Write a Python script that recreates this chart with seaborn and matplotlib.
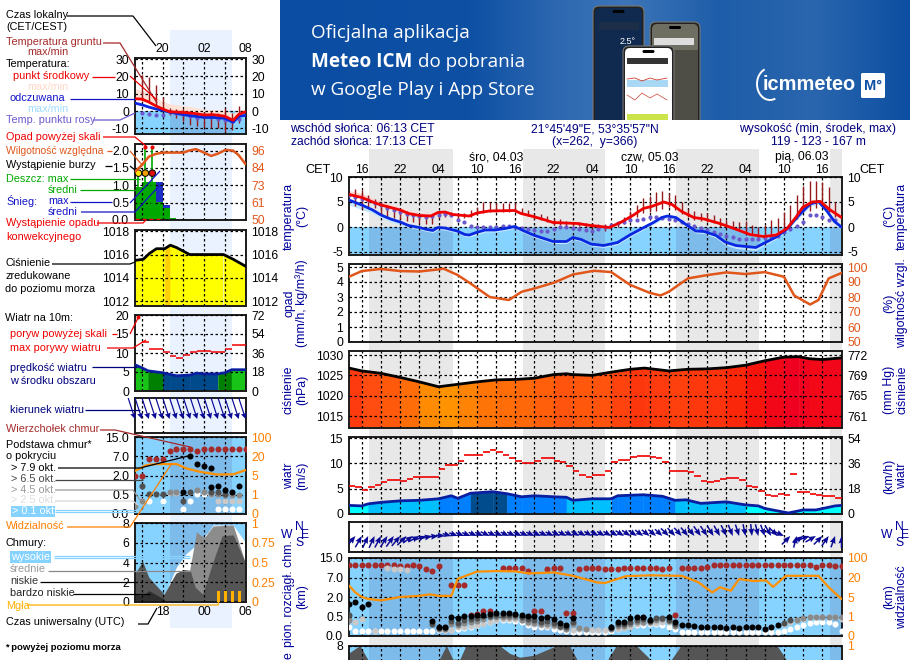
import matplotlib
matplotlib.use('Agg')
import matplotlib.pyplot as plt
import seaborn as sns
import numpy as np
from matplotlib.colors import LinearSegmentedColormap
from matplotlib.patches import FancyBboxPatch, Rectangle, Arc

nan = float('nan')

# ---- main chart data, hours counted from 16:00 CET on the first day
temp_hours = [-2, 0, 1.7, 3, 4.5, 6, 7.3, 9, 10.8, 11.9, 13, 14.2, 16.8, 18, 19.9, 23.9, 24.9, 26.8, 28.7, 29.9, 33.7, 35.8, 38.7, 40.6, 42.5, 44, 45.3, 47.2, 48.5, 50, 51.9, 53.5, 55.7, 58.2, 60.7, 62.8, 64.8, 66.5, 67.9, 68.9, 70.4, 71.7, 73, 75]
temp_mid = [6.5, 5.9, 5.0, 4.4, 3.9, 3.4, 2.7, 2.3, 2.2, 2.9, 3.0, 2.5, 2.2, 2.8, 3.2, 3.3, 2.7, 2.1, 1.4, 0.9, 0.7, 0.3, -0.1, 1.0, 2.4, 3.7, 4.1, 5.0, 4.5, 3.1, 1.9, 1.6, 0.8, -0.3, -1.5, -1.9, -1.6, -0.3, 2.0, 3.9, 5.0, 5.1, 3.6, 1.9]
temp_max = [7.3, 6.7, 5.8, 5.2, 4.5, 4.0, 3.3, 2.9, 2.7, 3.2, 3.3, 2.8, 2.5, 3.1, 3.6, 3.6, 3.0, 2.4, 1.7, 1.2, 1.0, 0.7, 0.3, 1.5, 2.9, 4.1, 4.5, 5.4, 4.9, 3.5, 2.3, 2.0, 1.2, 0.1, -1.1, -1.5, -1.1, 0.3, 2.6, 4.4, 5.4, 5.5, 4.2, 2.5]
feels_hours = [-2, 0, 1.7, 3, 4.5, 6, 7.3, 9, 10.2, 11.1, 11.9, 13, 14.9, 16.1, 16.8, 17.9, 19.3, 20.8, 22.4, 23.9, 25.2, 26.8, 28.7, 29.9, 32, 33, 34.3, 35.8, 37.8, 40, 41.9, 43.8, 45.6, 46.9, 47.8, 49.1, 50.8, 52.2, 53.5, 55.4, 56.8, 58.5, 61.6, 62.8, 64.8, 66.4, 68.3, 70.1, 71.4, 72.6, 73.9, 75]
feels = [5.4, 4.4, 3.4, 2.4, 1.6, 1.0, 0.3, -0.1, -0.5, -0.7, -0.1, -0.2, -0.8, -1.5, -1.6, -1.1, -0.6, -0.6, -0.3, 0.1, -0.7, -1.6, -2.4, -2.9, -2.9, -2.1, -2.5, -3.4, -3.7, -3.1, -1.6, -0.3, 0.9, 1.9, 2.2, 1.9, 0.4, -0.8, -0.9, -1.7, -3.0, -3.7, -4.1, -3.3, -2.0, -0.5, 2.3, 4.6, 5.1, 3.4, 1.1, 0.0]
feels_min = [4.4, 3.5, 2.7, 1.8, 1.0, 0.4, -0.1, -0.5, -0.9, -1.1, -0.5, -0.6, -1.2, -1.9, -2.0, -1.6, -1.0, -1.0, -0.7, -0.3, -1.1, -2.0, -2.8, -3.3, -3.3, -2.5, -2.9, -3.8, -4.1, -3.5, -2.0, -0.7, 0.5, 1.5, 1.8, 1.5, 0.0, -1.2, -1.3, -2.2, -3.6, -4.3, -4.7, -3.8, -2.4, -0.9, 1.8, 4.1, 4.6, 2.9, 0.6, -0.5]

dew_point = [6.4, 6.1, 5.7, 5.5, 4.9, 4.4, 3.9, 3.5, 3.0, 2.7, 2.4, 2.2, 2.0, 2.2, 2.5, 2.6, 2.4, 1.5, 1.0, 0.3,
             0.1, 0.1, 0.1, 0.1, 0.2, 0.3, 0.1, -0.1, -0.3, -0.5, -0.7, -0.7, -0.3, 0.0, 0.1, -0.1, -0.4, -0.5, -0.7, -0.3,
             0.1, 0.5, 0.8, 1.1, 1.4, 1.5, 1.7, 2.0, 2.0, 1.9, 1.7, 1.4, 1.0, 0.7, 0.3, -0.1, -0.5, -0.9, -1.4, -1.7,
             -2.0, -2.4, -2.4, -2.4, -2.4, -2.2, -2.0, -1.7, -1.0, -0.3, 0.3, 1.0, 2.4, 2.4, 2.0, 1.5, 1.4]

ground_max = [7.6, 7.4, 6.4, 5.6, 5.0, 4.4, 4.0, 3.6, 3.3, 2.8, 2.5, 2.5, 2.5, 3.0, 3.0, 3.0, 2.5, 2.8, 3.4, 4.0, 5.0, 5.0, 4.9, 4.9, 4.8, 4.8,
              3.8, 3.4, 2.7, 2.6, 2.2, 1.6, 1.6, 1.2, 1.0, 1.0, 0.9, 0.8, 0.7, 0.7, 0.8, 1.0, 2.0, 3.2, 4.5, 5.8, 6.3, 7.0, 7.2, 6.8, 6.4,
              5.0, 3.7, 3.2, 2.9, 2.9, 2.5, 1.8, 1.4, 1.2, 1.0, 1.2, 0.4, 0.0, 0.5, 1.5, 1.8, 3.0, 4.4, 6.4, 8.3, 9.2, 9.2, 9.0, 8.0, 5.0, 3.4]
ground_min = [4.2, 3.7, 4.0, 3.8, 2.4, 2.0, 1.8, 1.6, 1.3, 1.0, 0.8, 0.7, 0.7, 1.8, 2.0, 2.5, 1.6, 1.8, 2.0, 2.5, 2.8, 3.0, 3.0, 3.0, 3.0, 3.0,
              2.7, 2.2, 1.6, 1.4, 1.0, 0.5, 0.4, 0.3, 0.3, 0.2, 0.0, -0.2, -0.6, -0.7, -0.2, 0.0, 0.6, 1.0, 2.0, 2.8, 3.1, 3.3, 3.7, 4.0, 3.5,
              2.6, 2.0, 1.5, 1.3, 1.0, 0.8, 0.1, -0.2, -0.3, -0.6, -1.0, -1.5, -2.1, -1.7, -1.5, -1.0, -0.5, 0.6, 1.6, 3.0, 3.3, 3.8, 4.3, 3.0, 2.0, 1.7]

rh_hours = [-2, 0, 3, 6, 9, 12, 12.8, 15, 17, 20, 23, 25, 27, 30, 33, 36.3, 39, 42, 45, 46.7, 48, 51, 54, 57, 60, 63, 66, 67.6, 70.1, 71.4, 73, 75]
rh_values = [93.5, 97.3, 98.7, 97.3, 97, 98.4, 98.9, 94.6, 89, 80, 78, 83.5, 85.7, 89.5, 95, 97.5, 96.6, 88, 82.8, 81, 83.5, 92.4, 94.6, 96.4, 95.3, 96.6, 93.5, 81, 75, 78, 92.4, 96]

pressure_hours = [-2, 0, 3, 6, 9, 12, 15, 18, 21, 24, 27, 30, 32, 33, 36, 39, 42, 44.2, 48, 51, 54, 57, 60, 63, 66, 68.3, 70, 72, 75]
pressure = [1026.8, 1026.1, 1025.5, 1024.5, 1023.4, 1022.2, 1022.8, 1023.4, 1023.9, 1024, 1024.3, 1025.2, 1025.4, 1025.2, 1025, 1025.8, 1026.5, 1026.8, 1026.1, 1026.5, 1026.6, 1026.9, 1027.5, 1028.6, 1029.5, 1029.6, 1029.1, 1028.9, 1029.3]

wind_hours = [-2, 0, 1, 3, 6, 9, 12, 14, 15, 17, 20.5, 22.7, 25, 27, 30, 32, 33, 36, 39, 40, 44, 47, 49, 50.7, 53, 57, 60, 62, 63, 66.7, 69, 71, 74, 75]
wind_speed = [1.7, 1.6, 2.0, 2.3, 2.6, 2.7, 3.0, 3.6, 3.1, 4.1, 4.4, 4.0, 3.4, 3.6, 3.4, 3.3, 2.7, 3.0, 3.0, 3.6, 3.8, 3.5, 2.7, 2.8, 2.1, 2.4, 1.8, 1.6, 1.1, 0.2, 0.8, 0.8, 1.6, 1.7]
gusts = [5.6, 5.3, 4.8, 5.4, 5.8, 6.4, 6.8, 6.8, 6.6, 7.0, 7.3, 7.3, 7.3, 7.4, 8.8, 9.6, 9.6, 10.4, 11.6, 11.6, 11.7, 12.2, 12.6, 12.2, 11.6, 11.0,
         10.4, 10.0, 10.0, 10.4, 11.0, 11.0, 10.4, 10.2, 9.4, 8.5, 7.7, 7.3, 7.7, 7.7, 8.5, 10.2, 10.6, 10.6, 11.3, 11.4, 11.4, 11.2, 11.0, 10.2,
         8.4, 8.4, 8.4, 8.3, 7.5, 6.6, 6.4, 6.6, 7.0, 7.2, 7.2, 6.8, 5.6, 5.4, 4.6, 3.8, 3.6, 4.0, 3.8, 7.8, 4.3, 4.4, 4.0, 3.8, 3.6, 3.6, 3.2]

arrow_angle = [45, 50, 60, 65, 65, 62, 58, 55, 50, 45, 35, 28, 20, 12, 5, -5, -15, -20, -22, -22, -24, -24, -25, -25, -25, -25,
               -25, -25, -25, -25, -25, -26, -26, -28, -28, -28, -30, -30, -30, -30, -30, -30, -32, -32, -34, -34, -36, -38, -40, -42, -44, -46,
               -48, -50, -52, -54, -56, -58, -60, -64, -68, -72, -78, -84, -76, -70, -60, -45, -25, 45, 75, 35, 20, 30, 45, 55, 70, 90]
arrow_len = [14, 13, 13, 13, 13, 13, 13, 13, 13, 13, 12, 12, 11, 11, 10, 9, 9, 9, 9, 9, 9, 9, 10, 9, 9, 9,
             9, 9, 9, 9, 9, 9, 9, 9, 9, 9, 9, 9, 9, 9, 9, 9, 9, 10, 10, 10, 10, 10, 10, 10, 11, 11,
             11, 11, 11, 12, 12, 12, 12, 12, 12, 12, 12, 12, 12, 12, 12, 12, 12, 12, 12, 12, 12, 12, 12, 12, 12, 12]

top_t = [-2, -1, 0, 1, 2, 3, 4, 5, 6, 7, 8, 9, 10, 11, 12, 14, 15, 16, 17, 18, 19, 20, 22, 23, 24, 25, 26, 27, 28, 29, 30, 31, 32, 33,
         34, 35, 36, 37, 38, 39, 40, 41, 42, 43, 44, 45, 46, 47, 48, 49, 50, 51, 52, 53, 54, 55, 56, 57, 58, 59, 60, 61, 62, 63, 64, 65, 66, 67, 68, 69, 70, 71, 72, 73, 74, 75]
top_km = [12.1, 12.1, 12.1, 12.1, 12.1, 12.1, 12.1, 12.0, 11.8, 11.8, 12.0, 11.9, 10.4, 9.5, 11.6, 4.95, 5.2, 4.95, 0.6, 0.7, 0.9, 0.93, 10.9, 10.9, 10.9, 10.9, 9.5, 0.9, 0.9, 10.3, 10.9, 10.9, 0.75, 0.75,
          10.3, 10.9, 10.9, 10.9, 10.3, 10.3, 10.6, 10.9, 10.9, 10.9, 10.9, 10.9, 10.9, 10.3, 10.9, 0.6, 10.9, 10.9, 10.9, 10.9, 11.2, 12, 12, 12, 12, 12, 12, 12, 12, 12, 12, 12, 12, 12, 12, 12, 12, 11.2, 12, 12, 11.6, 11.6]
black_t = [-2, -1, 0, 1] + list(range(11, 34)) + list(range(39, 46)) + list(range(48, 66))
black_km = [1.5, 1.65, 1.25, 1.5, .385, .24, .24, .5, .45, .52, .54, .6, .65, .7, .75, .75, .75, .72, .6, .54, .52, .45, .48, .43, .33, .28, .45,
            .24, .37, .37, .45, .5, .5, .41, .5, .35, .28, .27, .26, .22, .22, .22, .22, .2, .22, .2, .22, .22, .22, .17, .22, .28]
dark_t = [-2] + list(range(11, 34)) + list(range(39, 50)) + [66, 67]
dark_km = [.62, .3, .2, .2, .38, .34, .4, .43, .47, .52, .56, .6, .6, .6, .58, .48, .43, .42, .36, .38, .34, .26, .24, .36,
           .2, .3, .3, .37, .42, .44, .38, .45, .45, .42, .3, .34, .42]
gray_t = [-2, 11] + list(range(12, 34)) + [34, 35] + list(range(39, 50)) + list(range(68, 76))
gray_km = [.42, .37, .17, .17, .3, .28, .33, .36, .39, .44, .48, .5, .5, .5, .48, .4, .36, .34, .3, .31, .28, .22, .18, .3, .2, .19,
           .18, .25, .25, .3, .35, .37, .35, .42, .44, .38, .26, .42, .47, .5, .5, .5, .5, .5, .5]
light_t = [-2, -1, 0, 2, 4, 5, 6, 7, 11] + list(range(12, 40)) + list(range(40, 50)) + list(range(66, 76))
light_km = [.4, .35, .43, .14, 11.0, 10.5, 10.3, 10.1, .37,
            .17, .15, .16, .22, .22, .26, .29, .32, .37, .41, .44, .44, .44, .42, .34, .3, .27, .25, .25, .22, .18, .16, .17, .17, .16, .16, .16, .17,
            .17, .2, .24, .3, .33, .34, .33, .37, .36, .25, .3, .35, .4, .44, .48, .48, .48, .48, .48, .44]
white_km = [.22, .14, .14, .14, .14, .14, .14, .14, .14, .14, .14, .14, .14, .14, .155, .155, .155, .17, .2, .24, .28, .33, .37, .4, .41, .41,
            .39, .35, .28, .24, .22, .22, .19, .155, .14, .11, .11, .11, .11, .11, .11, .14, .17, .22, .26, .28, .29, .31, .31, .28, .22, .17,
            .11, .11, .11, .11, .11, .11, .11, .11, .11, .11, .11, .11, .11, .11, .11, .11, .14, .17, .22, .28, .33, .36, .37, .35, .31, .14]

vis_hours = [-2, -1, 0, 1, 3, 6, 9, 10.7, 12, 14, 15, 18, 21, 24, 26.2, 30, 33, 36.8, 38, 41.3, 45, 50, 52.6, 54.8, 56, 57.7, 59, 61.3, 63.2, 64.3, 66.3, 71.4, 73, 75]
visibility = [13.7, 8.5, 5, 4.6, 4.3, 5, 5.9, 7, 5.9, 5.9, 19, 44, 46.4, 45, 36.8, 40.8, 27, 16.2, 15.7, 25.6, 28.8, 27, 16.4, 8.5, 12.5, 9.8, 18.8, 17.3, 17.8, 12.8, 27, 27, 12.5, 4.6]

low_cloud_hours = [-2, -0.25, 1, 1.01, 12.1, 12.2, 13.3, 14.3, 15.4, 16.3, 21.6, 23.2, 24.8, 27, 30.2, 32.6, 33.7, 33.71, 38.5, 38.6, 39.9, 43, 45, 45.01, 48.3, 48.4, 50, 65, 66.4, 66.41, 75]
low_cloud = [7.2, 8, 6.6, nan, nan, 6.6, 8, 6.6, 6.6, 7.9, 8, 7.2, 6.8, 7, 7.9, 7.9, 6.6, nan, nan, 6.7, 8, 8, 6.7, nan, nan, 6.5, 8, 8, 6.6, nan, nan]

night_start = [1.15, 25.2, 49.1, 73.2]
night_end = [14.25, 38.0, 62.1, 75.0]

# ---- small legend chart, hours on a 16..32 clock
l_t_hours = [16, 17, 18, 19, 20, 21, 23, 24.6, 26, 27.3, 29, 30.2, 31, 32]
l_temp = [7.1, 6.9, 5.2, 3.0, 1.2, -0.4, -0.8, -1.4, -2.3, -2.1, -3.0, -5.4, -2.0, -0.4]
l_feels = [4.6, 3.6, 2.3, 1.2, 0.4, -0.6, -2.1, -3.0, -3.7, -3.7, -4.2, -6.5, -3.0, -2.5]
l_temp_max = [13, 12, 10, 8, 5.6, 4.2, 3, 2.2, 1, 0.8, 0.5, -1.2, 0.6, 1]
l_dew_hours = [17, 18, 19, 20, 21, 22, 23, 24, 25, 26, 27, 28, 29, 30, 31]
l_dew = [-1.2, -1.5, -2.1, -2.1, -0.8, -1.2, -1.7, -2.7, -4, -3.1, -3.5, -4.6, -5.4, -6, -4.6]
l_g_hours = [17, 18, 19, 20, 21, 22, 23, 24, 25, 26, 27, 28, 29, 30, 31]
l_g_max = [21, 19.6, 15, 8, 2, 1, 1, 0, -0.5, -0.5, 0, -1, 2, -1, 3]
l_g_min = [6, 4.6, 3, 1.5, -2.1, -4, -6, -8, -8.5, -9, -10, -10, -12, -11, -7]

l_rh_hours = [16, 17, 18, 19, 20, 23, 23.8, 24.8, 25.7, 27, 28, 29.1, 30.2, 31, 32]
l_rh = [82, 86.5, 92, 93.8, 94.7, 94.7, 96, 97, 95.3, 92.5, 94, 96.5, 96, 93, 87]
l_rain_hours = [16, 17, 18, 19, 20, 21]
l_rain = [0.95, 1.1, 1.1, 0.53, 0.35, 0.05]
l_snow = [0.95, 1.1, 1.1, 1.1, 0.42, 0.05]
l_rain_max_hours = [16.5, 17.5, 18.5]
l_rain_max = [1.35, 2.1, 2.1]
l_storm_colors = ['#FFE000', '#F0A000', '#E01010']

l_p_hours = [16, 17.2, 18.1, 19.1, 20.3, 21.1, 22, 23.9, 28.8, 30.2, 32]
l_pressure = [1015.5, 1015.6, 1016.1, 1016.5, 1016.5, 1016.8, 1016.6, 1016, 1016, 1015.6, 1015]

l_w_hours = [16, 17.1, 17.9, 20, 21, 22, 24, 24.9, 26, 28, 29, 30, 32]
l_wind = [6.9, 6.0, 5.3, 4.8, 4.4, 4.0, 4.2, 4.7, 4.5, 4.5, 4.8, 5.6, 5.6]
l_gust_hours = [17, 18, 19, 20, 21, 22, 23, 24, 25, 26, 27, 28, 29, 30, 31]
l_gust = [13, 11, 11, 10.2, 9.2, 8.6, 9.5, 10.2, 10.5, 10.5, 10.2, 10.2, 11, 12, 12.2]
l_dir_hours = [16, 17, 18, 19, 20, 21, 22, 23, 24, 25, 26, 27, 28, 29, 30, 31, 32]

l_top_h = [16, 17, 18, 19, 20, 21, 22, 23, 24, 25, 26, 27, 28, 29, 30, 31, 32]
l_top = [2, 2, 6.4, 6.4, 6.2, 9, 10, 10, 10, 9, 10, 10, 10, 10, 10, 10, 10]
l_black_h = [23, 24, 25, 26, 27, 27.01, 28, 29, 30, 31]
l_black = [0.7, 7, 4.95, 4.4, 3.9, 1.1, 1.2, 0.9, 0.7, 1.2]
l_dark_h = [17, 18, 19, 20, 23, 24, 27, 28, 29]
l_dark = [1.2, .55, .55, .55, .33, .7, .7, .7, .55]
l_gray_h = [16, 17, 21, 22, 25, 26, 27, 28, 29, 30, 31]
l_gray = [.2, .33, .7, .7, .9, .7, .55, .55, .5, .5, .5]
l_light_h = [21, 22, 28, 29, 30, 31]
l_light = [.62, .62, .33, .33, .33, .33]
l_white_h = [17, 18, 20, 23, 24, 25, 26, 27, 28, 29, 30, 31]
l_white = [.33, .33, .35, .12, .33, .55, .55, .55, .12, .12, .12, .12]
l_vis_hours = [16, 17.6, 19, 22, 23.5, 25.4, 27.8, 30.2, 32]
l_vis = [8.6, 13, 13.9, 13.9, 10.4, 7.9, 5.8, 5.9, 9.2]

l_c_high_h = [20.3, 22, 23.4, 24.9, 26.6, 27.3, 30.2, 32]
l_c_high = [0.8, 3.55, 4.9, 5.8, 7.1, 7.8, 7.8, 6.0]
l_c_mid_h = [22.7, 23.9, 24.9, 26, 27.3, 30.2, 32]
l_c_mid = [0.8, 3.2, 7.1, 6.5, 7.7, 7.8, 3.9]
l_c_low_h = [16, 17.1, 18, 20.2, 21.9, 23, 24, 24.7, 25.8, 27.2, 28.6, 30.2, 32]
l_c_low = [2.9, 4.1, 2.5, 0.8, 2.9, 3.3, 3.2, 1.5, 0.8, 3.9, 6.7, 6.8, 3.9]
l_c_vlow_h = [16, 17.1, 18, 20.2, 20.5]
l_c_vlow = [0.8, 0.65, 1.15, 0.3, 0.0]
l_fog_hours = [28.1, 29.1, 30.1, 31.1]
l_fog = [0.145, 0.145, 0.145, 0.145]

W, H = 910, 660
SKY = '#87D3FF'
SKY_DARK = '#7DBBEB'
NAVY = '#00007F'
ORANGE = '#FF7F00'
RH_COL = '#E0561B'
KM_NODES = [0, 0.5, 2, 7, 15]
VIS_NODES = [0, 1, 5, 20, 100]
POS_NODES = [0, 1, 2, 3, 4]

sns.set_theme(style='white')
plt.rcParams['font.family'] = ['Liberation Sans', 'DejaVu Sans']
plt.rcParams['font.size'] = 8.7
plt.rcParams['axes.unicode_minus'] = False


def px_ax(x0, y0, x1, y1, zorder=5):
    ax = fig.add_axes([x0 / W, 1 - y1 / H, (x1 - x0) / W, (y1 - y0) / H], zorder=zorder)
    ax.patch.set_visible(False)
    return ax


def node_scale(ax, nodes):
    ax.set_yscale('function', functions=(lambda v: np.interp(v, nodes, POS_NODES),
                                         lambda p: np.interp(p, POS_NODES, nodes)))
    ax.set_ylim(nodes[0], nodes[-1])
    ax.minorticks_off()


def setup(ax, xlim, xgrid, yticks, ylabels, rlabels, rcolor='black', pad=4.3, lw=1.4):
    ax.set_xlim(*xlim)
    ax.set_xticks(xgrid)
    ax.set_xticklabels([''] * len(xgrid))
    ax.set_yticks(yticks)
    ax.set_yticklabels(ylabels)
    ax.tick_params(axis='both', length=0, pad=pad, labelsize=8.7, labelcolor='black')
    ax.set_xlabel('')
    ax.set_ylabel('')
    ax.grid(True, color='black', linestyle=(0, (2, 2)), linewidth=0.9)
    ax.set_axisbelow(False)
    for sp in ax.spines.values():
        sp.set_color('#1c1c1c')
        sp.set_linewidth(lw)
        sp.set_visible(True)
    if rlabels:
        sec = ax.secondary_yaxis('right')
        sec.set_yticks(yticks)
        sec.set_yticklabels(rlabels)
        sec.tick_params(length=0, pad=pad, labelsize=8.7, labelcolor=rcolor)
        sec.spines['right'].set_visible(False)


def vis_axis(ax, xlim):
    # second scale of the cloud base panels, its labels sit on the right
    ax2 = ax.twinx()
    node_scale(ax2, VIS_NODES)
    ax2.set_xlim(*xlim)
    ax2.patch.set_visible(False)
    ax2.grid(False)
    for sp in ax2.spines.values():
        sp.set_visible(False)
    ax2.set_yticks(VIS_NODES)
    ax2.set_yticklabels(['0', '1', '5', '20', '100'])
    ax2.tick_params(axis='y', length=0, pad=4.3, labelsize=8.7, labelcolor=ORANGE)
    ax2.minorticks_off()
    return ax2


def line(ax, x, y, color, lw=2, z=5):
    sns.lineplot(x=x, y=y, ax=ax, color=color, linewidth=lw, zorder=z, errorbar=None, legend=False, sort=False)
    ax.set_xlabel('')
    ax.set_ylabel('')


def dots(ax, x, y, color, s=19, z=6):
    sns.scatterplot(x=x, y=y, ax=ax, color=color, s=s, linewidth=0, zorder=z, legend=False, clip_on=True)
    ax.set_xlabel('')
    ax.set_ylabel('')


def stepwise_fill(ax, x, y, colors, base):
    for i in range(len(x) - 1):
        ax.fill_between(x[i:i + 2], base, y[i:i + 2], color=colors[i], linewidth=0.3, zorder=1)


fig = plt.figure(figsize=(W / 100, H / 100), dpi=100, facecolor='white')

# background and overlay in pixel coordinates
bg = fig.add_axes([0, 0, 1, 1], zorder=-1)
bg.set_xlim(0, W)
bg.set_ylim(H, 0)
bg.axis('off')
bg.add_patch(Rectangle((170, 30), 62, 598, color='#EAF2FF', lw=0))
main_left, main_right = 349, 841.5
t2x = lambda t: 361.6 + 6.4 * t
for s, e in zip(night_start, night_end):
    bg.add_patch(Rectangle((t2x(s), 149), t2x(e) - t2x(s), 511, color='#E8E8E8', lw=0))

ov = fig.add_axes([0, 0, 1, 1], zorder=20)
ov.set_xlim(0, W)
ov.set_ylim(H, 0)
ov.axis('off')


def txt(x, y, s, color='black', ha='left', size=8.7, rot=0, **kw):
    ov.text(x, y, s, color=color, ha=ha, va='center', fontsize=size, rotation=rot, **kw)


def ltxt(x, y, s, color='black'):
    txt(x, y, s, color, size=7.8)


def lead(points, color, lw=0.9):
    xs, ys = zip(*points)
    ov.plot(xs, ys, color=color, lw=lw, solid_capstyle='butt')


# ---- banner
ban = px_ax(280, 0, 910, 120, zorder=1)
ban.set_xlim(280, 910)
ban.set_ylim(120, 0)
ban.axis('off')
ban_cmap = LinearSegmentedColormap.from_list('ban', [(0, '#0B4DA2'), (0.3, '#0E50A4'), (0.45, '#2F69B1'), (0.55, '#3C75B8'),
                                                     (0.7, '#1E5DA9'), (0.85, '#2A66AE'), (1, '#0D4FA2')])
ban.imshow(np.linspace(0, 1, 300)[None, :], cmap=ban_cmap, extent=(280, 910, 120, 0), aspect='auto', vmin=0, vmax=1)
ban.set_xlim(280, 910)
ban.set_ylim(120, 0)


def phone(x0, y0, x1, screen):
    ban.add_patch(FancyBboxPatch((x0, y0), x1 - x0, 140 - y0, boxstyle='round,pad=0,rounding_size=6', fc='#222222', ec='#777777', lw=0.8))
    ban.add_patch(FancyBboxPatch((x0 + 2, y0 + 2), x1 - x0 - 4, 140 - y0, boxstyle='round,pad=0,rounding_size=5', fc=screen, ec='none'))
    ban.add_patch(FancyBboxPatch(((x0 + x1) / 2 - 6, y0 + 4), 12, 3, boxstyle='round,pad=0,rounding_size=1.5', fc='black', ec='none'))


phone(593, 6, 644, '#0F2A4E')
ban.text(628, 41, '2.5°', color='white', fontsize=6.5, ha='center', va='center')
ban.add_patch(Rectangle((599, 22), 40, 8, color='#1D2F48', lw=0))
phone(650, 22, 700, '#6F6E62')
ban.add_patch(Rectangle((654, 38), 40, 7, color='#DDDDDD', lw=0))
ban.add_patch(Rectangle((674, 50), 24, 70, color='#4E4E46', lw=0))
phone(623, 46, 674, '#FFFFFF')
ban.add_patch(Rectangle((627, 58), 41, 6, color='#333333', lw=0))
ban.add_patch(Rectangle((627, 80), 41, 7, color='#A9D8F5', lw=0))
ban.add_patch(Rectangle((627, 114), 41, 6, color='#CDE34A', lw=0))
ban.plot([627, 635, 642, 650, 657, 667], [79, 78, 81, 78, 80, 78], color='#D04030', lw=0.6)
ban.plot([627, 635, 642, 650, 657, 667], [95, 100, 93, 98, 94, 100], color='#D04030', lw=0.5)
ban.text(311, 33, 'Oficjalna aplikacja', color='white', fontsize=13.6, va='center', family='Open Sans')
ban.text(311, 62, 'Meteo ICM', color='white', fontsize=13.6, va='center', family='Open Sans', weight='bold')
ban.text(418, 62, 'do pobrania', color='white', fontsize=13.6, va='center', family='Open Sans')
ban.text(311, 90, 'w Google Play i App Store', color='white', fontsize=13.6, va='center', family='Open Sans')
ban.text(763, 85, 'icmmeteo', color='white', fontsize=14.4, va='center', weight='bold')
ban.add_patch(Arc((770, 84), 26, 32, theta1=70, theta2=250, color='white', lw=1.4))
ban.add_patch(FancyBboxPatch((861, 73), 24, 25, boxstyle='round,pad=0,rounding_size=1.5', fc='white', ec='none'))
ban.text(873, 85.5, 'M°', color='#0D50A3', fontsize=10.5, weight='bold', ha='center', va='center')

# ---- main chart
m_xlim = (-2, 75)
m_grid = list(range(0, 75, 3))
all_t = [-2 + k for k in range(78)]
gust_t = [-2 + k for k in range(len(gusts))]

ax = px_ax(main_left, 177, main_right, 255)
ax.set_ylim(-5.6, 10)
setup(ax, m_xlim, m_grid, [-5, 0, 5, 10], ['-5', '0', '5', '10'], ['-5', '0', '5', '10'])
ax.fill_between(m_xlim, -5.6, 0, color=SKY, linewidth=0, zorder=0.5)
for s, e in zip(night_start, night_end):
    ax.fill_between([s, e], -5.6, 0, color=SKY_DARK, linewidth=0, zorder=0.6)
ax.fill_between(temp_hours, temp_mid, temp_max, color='#FFD5CE', linewidth=0, zorder=1)
ax.fill_between(feels_hours, feels_min, feels, color='#C4E8FF', linewidth=0, zorder=1.1)
ax.vlines(all_t[1:len(ground_max) + 1], ground_min, ground_max, color='#96191C', lw=1, zorder=3)
dots(ax, all_t[:len(dew_point)], dew_point, '#6A5ACD', s=9, z=4)
line(ax, feels_hours, feels, '#0A28E0', 2)
line(ax, temp_hours, temp_mid, '#F00000', 2)
ax.set_xlim(*m_xlim)
ax.set_ylim(-5.6, 10)
ax.set_xticks(m_grid)
ax.set_xticklabels([f'{(16 + t) % 24:02d}' if t % 6 == 0 else '' for t in m_grid])
ax.tick_params(axis='x', top=False, labeltop=True, labelbottom=False, pad=0.5, labelsize=8.7)

ax = px_ax(main_left, 264, main_right, 342)
ax.set_ylim(0, 5.2)
setup(ax, m_xlim, m_grid, [0, 1, 2, 3, 4, 5], ['0', '1', '2', '3', '4', '5'],
      ['50', '60', '70', '80', '90', '100'], rcolor=RH_COL)
ax2 = ax.twinx()
ax2.set_ylim(50, 102)
ax2.axis('off')
line(ax2, rh_hours, rh_values, RH_COL, 1.8)
ax2.set_xlim(*m_xlim)
ax2.set_ylim(50, 102)

ax = px_ax(main_left, 351, main_right, 428)
ax.set_ylim(1012.05, 1031)
setup(ax, m_xlim, m_grid, [1015, 1020, 1025, 1030], ['1015', '1020', '1025', '1030'], ['761', '765', '769', '772'])
p_cmap = LinearSegmentedColormap.from_list('press', [(0, '#FF9A00'), (0.25, '#FF6A08'), (0.5, '#FF4A10'), (0.75, '#F81808'), (1, '#F00020')])
p_colors = [p_cmap((0.5 * (pressure[i] + pressure[i + 1]) - 1022.2) / 7.4) for i in range(len(pressure) - 1)]
stepwise_fill(ax, pressure_hours, pressure, p_colors, 1012.05)
line(ax, pressure_hours, pressure, 'black', 2)
ax.set_xlim(*m_xlim)
ax.set_ylim(1012.05, 1031)

ax = px_ax(main_left, 437, main_right, 514)
ax.set_ylim(0, 15.2)
setup(ax, m_xlim, m_grid, [0, 5, 10, 15], ['0', '5', '10', '15'], ['0', '18', '36', '54'])
w_colors = []
for i in range(len(wind_speed) - 1):
    m = 0.5 * (wind_speed[i] + wind_speed[i + 1])
    w_colors.append('#00FFFF' if m < 2 else '#00BFFF' if m < 3.05 else '#0080FF' if m < 3.95 else '#004C8C')
stepwise_fill(ax, wind_hours, wind_speed, w_colors, 0)
line(ax, wind_hours, wind_speed, '#0A1EA0', 2)
ax.hlines(gusts, gust_t, [t + 1 for t in gust_t], color='#F00000', lw=1.2, zorder=5)
ax.set_xlim(*m_xlim)
ax.set_ylim(0, 15.2)

ax = px_ax(main_left, 522, main_right, 552)
ax.set_ylim(0, 30)
setup(ax, m_xlim, m_grid, [], [], [])
ax.grid(False, axis='y')
rad = np.radians(arrow_angle)
ax.quiver(all_t, [16] * len(all_t), np.array(arrow_len) * np.cos(rad), np.array(arrow_len) * np.sin(rad),
          color='#0A0A96', pivot='tip', angles='uv', scale_units='dots', scale=1, units='dots',
          width=1.5, headwidth=4, headlength=5, headaxislength=4.5, zorder=5)

ax = px_ax(main_left, 558, main_right, 636)
node_scale(ax, KM_NODES)
setup(ax, m_xlim, m_grid, KM_NODES[::-1], ['15.0', '7.0', '2.0', '0.5', '0.0'], [])
ax.set_facecolor(SKY)
ax.patch.set_visible(True)
for s, e in zip(night_start, night_end):
    ax.axvspan(s, e, color=SKY_DARK, linewidth=0, zorder=0.5)
dots(ax, top_t, top_km, '#A52A2A', z=3)
dots(ax, all_t, white_km, 'white', z=3.1)
dots(ax, light_t, light_km, '#C8C8C8', z=3.2)
dots(ax, gray_t, gray_km, '#8A8A8A', z=3.3)
dots(ax, dark_t, dark_km, '#505050', z=3.4)
dots(ax, black_t, black_km, 'black', z=3.5)
ax.set_xlim(*m_xlim)
ax2 = vis_axis(ax, m_xlim)
line(ax2, vis_hours, visibility, '#FF9000', 1.6)
ax2.set_xlim(*m_xlim)
ax2.set_ylim(0, 100)

ax = px_ax(main_left, 646, main_right, 724)
ax.set_ylim(0, 8)
setup(ax, m_xlim, m_grid, [8], ['8'], ['1'], rcolor=ORANGE)
ax.set_facecolor(SKY)
ax.patch.set_visible(True)
for s, e in zip(night_start, night_end):
    ax.axvspan(s, e, color=SKY_DARK, linewidth=0, zorder=0.5)
ax.fill_between(low_cloud_hours, 0, low_cloud, color='#555555', linewidth=0, zorder=1)
ax.set_xlim(*m_xlim)
ax.set_ylim(0, 8)

# ---- legend chart
l_xlim = (16, 32)
l_grid = [17, 20, 23, 26, 29, 32]
L0, L1 = 135, 245.6

ax = px_ax(L0, 57.5, L1, 134)
ax.set_ylim(-13.3, 31)
ticks = [-10, 0, 10, 20, 30]
setup(ax, l_xlim, l_grid, ticks, ['-10', '0', '10', '20', '30'], ['-10', '0', '10', '20', '30'])
ax.fill_between(l_xlim, -13.3, 0, color=SKY, linewidth=0, zorder=0.5)
ax.fill_between([21.06, 30.03], -13.3, 0, color=SKY_DARK, linewidth=0, zorder=0.6)
ax.fill_between(l_t_hours, l_temp, l_temp_max, color='#FFE2D6', linewidth=0, zorder=1)
ax.vlines(l_g_hours, l_g_min, l_g_max, color='#96191C', lw=1, zorder=3)
dots(ax, l_dew_hours, l_dew, '#6A5ACD', s=9, z=4)
line(ax, l_t_hours, l_feels, '#0A28E0', 2)
line(ax, l_t_hours, l_temp, '#F00000', 2)
ax.set_xlim(*l_xlim)
ax.set_ylim(-13.3, 31)
ax.set_xticks(l_grid)
ax.set_xticklabels(['', '20', '', '02', '', '08'])
ax.tick_params(axis='x', top=False, labeltop=True, labelbottom=False, pad=1.5, labelsize=8.7)

ax = px_ax(L0, 144, L1, 220)
ax.set_ylim(0, 2.19)
setup(ax, l_xlim, l_grid, [0, .5, 1, 1.5, 2], ['0.0', '0.5', '1.0', '1.5', '2.0'], ['50', '61', '73', '84', '96'], rcolor=RH_COL)
ax.bar(l_rain_hours, l_snow, width=1, align='edge', color='#1E2FC8', linewidth=0, zorder=1)
ax.bar(l_rain_hours, l_rain, width=1, align='edge', color='#00A800', linewidth=0, zorder=1.1)
ax.vlines(l_rain_max_hours, 0, l_rain_max, color='#00A800', lw=1.2, zorder=3)
ax.hlines([0.02], 16, 20, color='#F00000', lw=1, linestyle=(0, (3, 2)), zorder=4)
dots(ax, l_rain_max_hours[1:], [2.1, 2.1], '#F00000', s=9, z=6)
sns.scatterplot(x=l_rain_max_hours, y=[1.35, 1.35, 1.35], hue=l_rain_max_hours, palette=l_storm_colors, ax=ax, s=22,
                edgecolor='black', linewidth=0.7, zorder=7, legend=False)
ax.set_xlabel('')
ax.set_ylabel('')
ax2 = ax.twinx()
ax2.set_ylim(50, 100.4)
ax2.axis('off')
line(ax2, l_rh_hours, l_rh, RH_COL, 1.8)
ax2.set_xlim(*l_xlim)
ax2.set_ylim(50, 100.4)
ax.set_xlim(*l_xlim)
ax.set_ylim(0, 2.19)

ax = px_ax(L0, 230, L1, 306)
ax.set_ylim(1011.6, 1018.1)
setup(ax, l_xlim, l_grid, [1012, 1014, 1016, 1018], ['1012', '1014', '1016', '1018'], ['1012', '1014', '1016', '1018'])
l_p_colors = ['#FFFF00'] * (len(l_pressure) - 1)
l_p_colors[4] = '#FFD000'
stepwise_fill(ax, l_p_hours, l_pressure, l_p_colors, 1011.6)
line(ax, l_p_hours, l_pressure, 'black', 2)
ax.set_xlim(*l_xlim)
ax.set_ylim(1011.6, 1018.1)

ax = px_ax(L0, 315, L1, 391)
ax.set_ylim(0, 20)
setup(ax, l_xlim, l_grid, [0, 5, 10, 15, 20], ['0', '5', '10', '15', '20'], ['0', '18', '36', '54', '72'])
l_w_colors = []
for i in range(len(l_wind) - 1):
    m = 0.5 * (l_wind[i] + l_wind[i + 1])
    l_w_colors.append('#17C417' if m > 5.2 else '#008000' if m > 4.6 else '#004A8C')
stepwise_fill(ax, l_w_hours, l_wind, l_w_colors, 0)
line(ax, l_w_hours, l_wind, '#0A1EA0', 2)
ax.hlines(l_gust, l_gust_hours, [h + 1 for h in l_gust_hours], color='#F00000', lw=1.1, zorder=5)
dots(ax, [16.4], [19.6], '#F00000', s=8)
ax.set_xlim(*l_xlim)
ax.set_ylim(0, 20)

ax = px_ax(L0, 398, L1, 433)
ax.set_ylim(0, 35)
setup(ax, l_xlim, l_grid, [], [], [])
ax.grid(False, axis='y')
l_rad = np.radians([-72] * len(l_dir_hours))
ax.quiver(l_dir_hours, [14] * len(l_dir_hours), 22 * np.cos(l_rad), 22 * np.sin(l_rad), color='#0A0A96', pivot='tip', angles='uv',
          scale_units='dots', scale=1, units='dots', width=1.2, headwidth=5, headlength=5, headaxislength=4.5, zorder=5, clip_on=False)

ax = px_ax(L0, 437, L1, 514)
node_scale(ax, KM_NODES)
setup(ax, l_xlim, l_grid, KM_NODES[::-1], ['15.0', '7.0', '2.0', '0.5', '0.0'], [])
ax.set_facecolor(SKY)
ax.patch.set_visible(True)
ax.axvspan(21.06, 30.03, color=SKY_DARK, linewidth=0, zorder=0.5)
dots(ax, l_top_h, l_top, '#A52A2A', z=3)
dots(ax, l_white_h, l_white, 'white', z=3.1)
dots(ax, l_light_h, l_light, '#C8C8C8', z=3.2)
dots(ax, l_gray_h, l_gray, '#8A8A8A', z=3.3)
dots(ax, l_dark_h, l_dark, '#505050', z=3.4)
dots(ax, l_black_h, l_black, 'black', z=3.5)
ax.set_xlim(*l_xlim)
ax2 = vis_axis(ax, l_xlim)
line(ax2, l_vis_hours, l_vis, '#FF9000', 1.6)
ax2.set_xlim(*l_xlim)
ax2.set_ylim(0, 100)

ax = px_ax(L0, 523, L1, 602)
ax.set_ylim(0, 8)
setup(ax, l_xlim, l_grid, [0, 2, 4, 6, 8], ['0', '2', '4', '6', '8'], ['0', '0.25', '0.5', '0.75', '1'], rcolor=ORANGE)
ax.set_facecolor(SKY)
ax.patch.set_visible(True)
ax.axvspan(21.06, 30.03, color=SKY_DARK, linewidth=0, zorder=0.5)
ax.fill_between(l_c_high_h, 0, l_c_high, color='white', linewidth=0, zorder=1)
ax.fill_between(l_c_mid_h, 0, l_c_mid, color='#8C8C8C', linewidth=0, zorder=1.1)
ax.fill_between(l_c_low_h, 0, l_c_low, color='#555555', linewidth=0, zorder=1.2)
ax.fill_between(l_c_vlow_h, 0, l_c_vlow, color='#2E2E2E', linewidth=0, zorder=1.3)
ax.set_xticks(l_grid)
ax.set_xticklabels(['', '18', '', '00', '', '06'])
ax.tick_params(axis='x', labelbottom=True, pad=3, labelsize=8.7)
ax2 = ax.twinx()
ax2.set_ylim(0, 1)
ax2.axis('off')
ax2.bar(l_fog_hours, l_fog, width=0.42, color='#FFB000', linewidth=0, zorder=3)
ax.set_xlim(*l_xlim)
ax2.set_xlim(*l_xlim)

# ---- header texts
txt(290, 129, 'wschód słońca: 06:13 CET', NAVY)
txt(291, 142, 'zachód słońca: 17:13 CET', NAVY)
txt(595, 129, '21°45\'49"E, 53°35\'57"N', NAVY, ha='center')
txt(595, 142, '(x=262,  y=366)', NAVY, ha='center')
txt(818, 129, 'wysokość (min, środek, max)', NAVY, ha='center')
txt(818, 142, '119 - 123 - 167 m', NAVY, ha='center')
txt(496, 157, 'śro, 04.03', ha='center')
txt(650, 157, 'czw, 05.03', ha='center')
txt(802, 157, 'pią, 06.03', ha='center')
txt(331, 170, 'CET', ha='right', size=9.2)
txt(859, 170, 'CET', size=9.2)

# ---- rotated axis names
BLUE_T = '#00009C'
for x, y, s in [(289, 216, 'temperatura'), (302, 216, '(°C)'), (889, 216, '(°C)'), (902, 216, 'temperatura'),
                (289, 303, 'opad'), (302, 303, '(mm/h, kg/m³/h)'), (889, 303, '(%)'), (902, 303, 'wilgotność wzgl.'),
                (289, 390, 'ciśnienie'), (302, 390, '(hPa)'), (889, 390, '(mm Hg)'), (902, 390, 'ciśnienie'),
                (289, 476, 'wiatr'), (302, 476, '(m/s)'), (889, 476, '(km/h)'), (902, 476, 'wiatr'),
                (289, 594, 'pion. rozciągł. chm.'), (302, 597, '(km)'), (889, 597, '(km)'), (902, 597, 'widzialność'),
                (289, 656, 'e')]:
    txt(x, y, s, BLUE_T, ha='center', rot=90, size=8.9)
for cx in (292, 892):
    txt(cx - 5, 535, 'W', BLUE_T, ha='center')
    txt(cx + 7, 527, 'N', BLUE_T, ha='center')
    txt(cx + 13, 535, 'E', BLUE_T, ha='center')
    txt(cx + 7, 543, 'S', BLUE_T, ha='center')

# ---- legend labels and leader lines
BROWN = '#A52A2A'
GREEN = '#00A800'
BLUE = '#1414C8'
PURPLE = '#6A5ACD'
ltxt(6, 15, 'Czas lokalny')
ltxt(6, 27, '(CET/CEST)')
lead([(67, 16), (133, 16), (156, 46)], 'black')
ltxt(6, 42, 'Temperatura gruntu', BROWN)
ltxt(27, 52, 'max/min', BROWN)
lead([(103, 43), (120, 43), (157, 103)], BROWN)
ltxt(6, 64, 'Temperatura:')
ltxt(13, 76, 'punkt środkowy', '#F00000')
lead([(92, 77), (115, 77)], '#F00000')
lead([(130, 76), (157, 100)], '#F00000')
ltxt(27, 87, 'max/min', '#FFD9C8')
ltxt(10, 98, 'odczuwana', BLUE)
lead([(70, 99), (135, 99)], BLUE)
ltxt(27, 109, 'max/min', '#A0DCFF')
ltxt(6, 120, 'Temp. punktu rosy', PURPLE)
lead([(93, 120), (120, 120), (135, 113)], PURPLE)
ltxt(6, 137, 'Opad powyżej skali', '#F00000')
lead([(103, 137), (135, 137), (146, 146)], '#F00000')
txt(6, 151, 'Wilgotność względna', RH_COL, size=7.5)
lead([(107, 151), (112, 151)], RH_COL)
lead([(130, 151), (143, 166)], RH_COL)
ltxt(6, 165, 'Wystąpienie burzy')
lead([(105, 166), (112, 166)], 'black')
lead([(130, 166), (135, 170)], 'black')
ltxt(6, 179, 'Deszcz: max', GREEN)
lead([(70, 179), (140, 179)], GREEN)
ltxt(48, 190, 'średni', GREEN)
lead([(80, 190), (143, 190)], GREEN)
ltxt(6, 201, 'Śnieg:', BLUE)
ltxt(48, 201, 'max', BLUE)
lead([(70, 202), (112, 202)], BLUE)
lead([(130, 203), (160, 171)], BLUE)
ltxt(48, 212, 'średni', BLUE)
lead([(81, 212), (135, 212), (160, 185)], BLUE)
ltxt(6, 223, 'Wystąpienie opadu', '#F00000')
ltxt(6, 237, 'konwekcyjnego', '#F00000')
lead([(97, 223), (143, 223), (146, 220)], '#F00000')
ltxt(5, 263, 'Ciśnienie')
ltxt(5, 276, 'zredukowane')
ltxt(5, 289, 'do poziomu morza')
lead([(52, 264), (130, 264), (135, 262)], 'black')
ltxt(5, 318, 'Wiatr na 10m:')
ltxt(10, 334, 'poryw powyżej skali', '#F00000')
lead([(112, 334), (117, 334)], '#F00000')
lead([(130, 334), (138, 318)], '#F00000')
ltxt(10, 348, 'max porywy wiatru', '#F00000')
lead([(107, 348), (133, 348), (146, 340)], '#F00000')
ltxt(10, 368, 'prędkość wiatru', NAVY)
ltxt(10, 381, 'w środku obszaru', NAVY)
lead([(92, 367), (137, 367)], NAVY)
ltxt(10, 410, 'kierunek wiatru', NAVY)
lead([(85, 410), (140, 410)], NAVY)
ltxt(6, 429, 'Wierzchołek chmur', BROWN)
lead([(100, 430), (115, 430), (190, 447)], BROWN)
ltxt(6, 445, 'Podstawa chmur*')
ltxt(6, 456, 'o pokryciu')
ltxt(11, 468, '> 7.9 okt.')
lead([(58, 468), (140, 468), (192, 455)], 'black')
ltxt(11, 479, '> 6.5 okt.', '#444444')
lead([(55, 480), (143, 480)], '#444444')
ltxt(11, 490, '> 4.5 okt.', '#999999')
lead([(55, 490), (133, 490), (140, 500)], '#999999')
ltxt(11, 500, '> 2.5 okt.', '#DDDDDD')
lead([(55, 501), (133, 501), (138, 505)], '#D8D8D8')
ov.add_patch(Rectangle((11, 506), 44, 11, color=SKY, lw=0))
ltxt(12, 511, '> 0.1 okt.', 'white')
lead([(55, 510), (143, 510)], SKY)
lead([(55, 512), (143, 512)], SKY)
ltxt(6, 526, 'Widzialność', ORANGE)
lead([(67, 527), (130, 527), (172, 463)], ORANGE)
ltxt(6, 543, 'Chmury:')
ov.add_patch(Rectangle((10, 551), 41, 12, color=SKY, lw=0))
ltxt(11, 556.5, 'wysokie', 'white')
lead([(54, 556), (190, 556)], SKY)
lead([(54, 558), (190, 558)], SKY)
ltxt(10, 569, 'średnie', '#999999')
lead([(48, 571), (192, 571)], '#888888')
ltxt(10, 581, 'niskie', '#333333')
lead([(40, 582), (135, 582)], 'black')
ltxt(10, 593, 'bardzo niskie', '#222222')
lead([(73, 594), (150, 594)], 'black')
ltxt(6, 606, 'Mgła', '#FFB000')
lead([(27, 605), (218, 605), (219, 598)], '#FFB000')
ltxt(6, 622, 'Czas uniwersalny (UTC)')
lead([(138, 624), (148, 624), (157, 608)], 'black')
txt(5, 648, '* powyżej poziomu morza', size=6.8, weight='bold')

fig.savefig('out.png', dpi=100)
